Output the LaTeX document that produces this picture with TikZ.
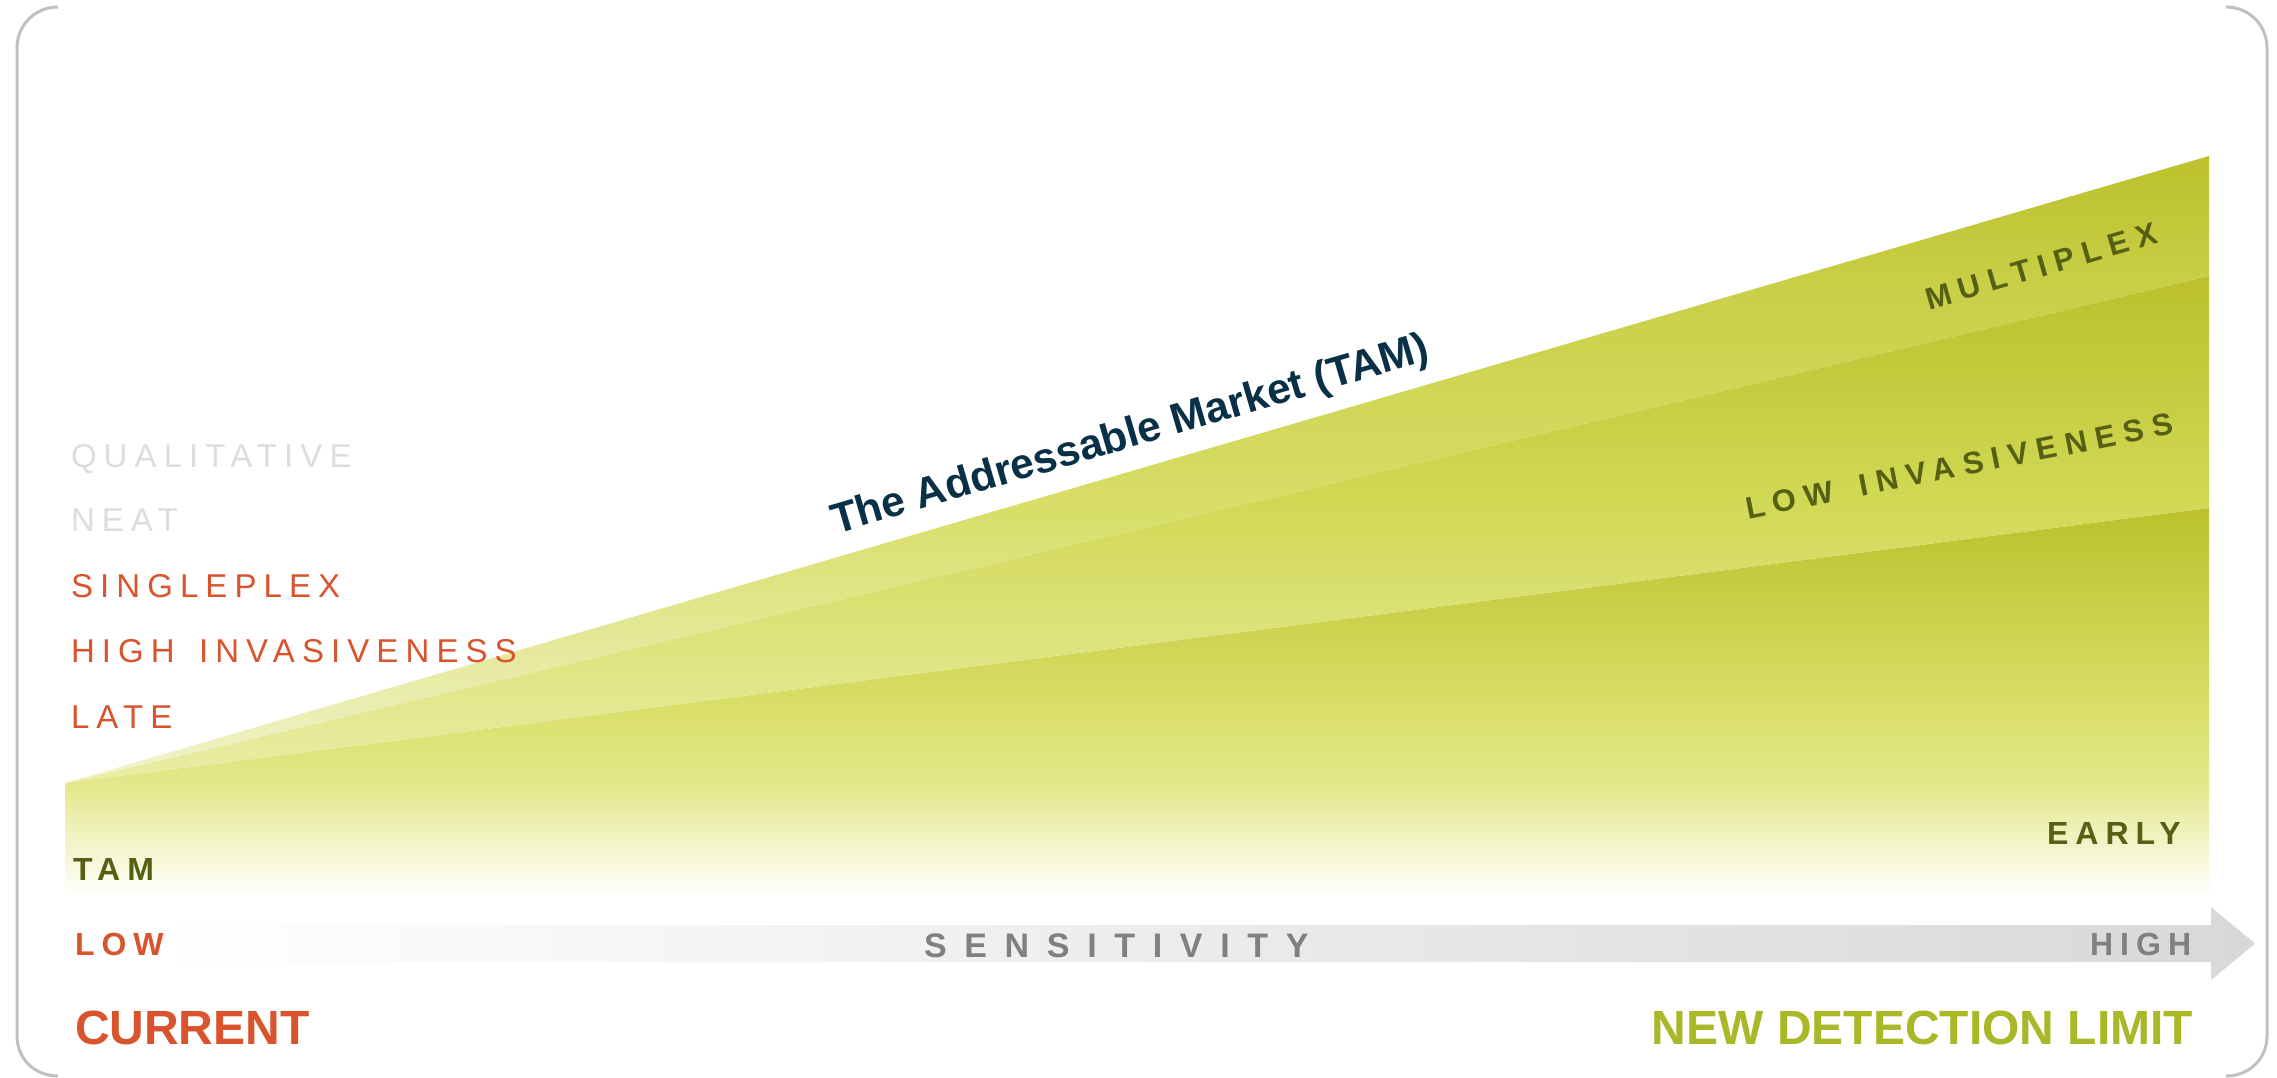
\documentclass[tikz,border=0pt]{standalone}
\usepackage{fontspec}
\setmainfont{Liberation Sans}
\newfontfamily\lsreg[LetterSpace=21.5]{Liberation Sans}
\newfontfamily\lsbold[LetterSpace=22]{Liberation Sans}
\newfontfamily\lswide[LetterSpace=27]{Liberation Sans}
\newfontfamily\lssens[LetterSpace=52]{Liberation Sans}
\definecolor{orng}{RGB}{217,84,44}
\definecolor{limetxt}{RGB}{168,184,38}
\definecolor{olivetxt}{RGB}{85,96,18}
\definecolor{navytxt}{RGB}{8,48,70}
\definecolor{lgray}{RGB}{221,221,221}
\definecolor{mgray}{RGB}{128,128,128}
\definecolor{bordercol}{RGB}{192,192,192}
\definecolor{gdark}{RGB}{187,192,43}
\definecolor{gA1}{RGB}{200,206,69}
\definecolor{gA2}{RGB}{216,222,104}
\definecolor{gA3}{RGB}{242,244,206}
\definecolor{gB1}{RGB}{210,217,86}
\definecolor{gB2}{RGB}{234,237,166}
\definecolor{gC1}{RGB}{216,222,102}
\definecolor{gC2}{RGB}{228,231,138}
\definecolor{arrowgray}{RGB}{216,216,216}
\begin{document}
\begin{tikzpicture}[x=1pt,y=-1pt,
  lbl/.style={anchor=base west,inner sep=0pt,outer sep=0pt},
  lblr/.style={anchor=base east,inner sep=0pt,outer sep=0pt},
  leftreg/.style={lbl,font=\lsreg\fontsize{33}{40}\selectfont},
  boldlbl/.style={lbl,font=\lsbold\bfseries\fontsize{32}{38}\selectfont},
  rotlbl/.style={lbl,font=\lswide\bfseries\fontsize{31}{37}\selectfont,text=olivetxt},
  bigbold/.style={font=\bfseries\fontsize{48}{56}\selectfont}]
\useasboundingbox (0,0) rectangle (2277,1078);
\fill[white] (0,0) rectangle (2277,1078);

% coordinates of the wedge
\coordinate (apex) at (65,783);
\coordinate (t1) at (2209,156);
\coordinate (t2) at (2209,276);
\coordinate (t3) at (2209,508);
\coordinate (br) at (2209,896);
\coordinate (bl) at (65,896);

% band C (lowest)
\begin{scope}
\clip (apex) -- (t3) -- (br) -- (bl) -- cycle;
\shade[top color=gdark,bottom color=gC1] (60,506) rectangle (2215,701);
\shade[top color=gC1,bottom color=gC2] (60,700) rectangle (2215,784);
\shade[top color=gC2,bottom color=white] (60,783) rectangle (2215,897);
\end{scope}
% band B
\begin{scope}
\clip (apex) -- (t2) -- (t3) -- cycle;
\shade[top color=gdark,bottom color=gB1] (60,274) rectangle (2215,509);
\shade[top color=gB1,bottom color=gB2] (60,508) rectangle (2215,785);
\end{scope}
% band A (top)
\begin{scope}
\clip (apex) -- (t1) -- (t2) -- cycle;
\shade[top color=gdark,bottom color=gA1] (60,154) rectangle (2215,277);
\shade[top color=gA1,bottom color=gA2] (60,276) rectangle (2215,511);
\shade[top color=gA2,bottom color=gA3] (60,510) rectangle (2215,785);
\end{scope}

% frame (corner brackets)
\draw[bordercol,line width=3pt] (58,7) .. controls (35,7) and (17,25) .. (17,48)
  -- (17,1036) .. controls (17,1059) and (35,1076) .. (58,1076);
\draw[bordercol,line width=3pt] (2226,7) .. controls (2249,7) and (2267,25) .. (2267,48)
  -- (2267,1036) .. controls (2267,1059) and (2249,1076) .. (2226,1076);

% sensitivity arrow
\shade[left color=white,right color=arrowgray]
  (150,925) -- (2211,925) -- (2211,907) -- (2255,943.5) -- (2211,980) -- (2211,962) -- (150,962) -- cycle;

% left labels
\node[leftreg,text=lgray] (qual) at (71,467) {QUALITATIVE};
\node[leftreg,text=lgray] (neat) at (71,531) {NEAT};
\node[leftreg,text=orng] (single) at (71,597) {SINGLEPLEX};
\node[leftreg,text=orng] (highinv) at (71,662) {HIGH\hspace{8pt} INVASIVENESS};
\node[leftreg,text=orng] (late) at (71,728) {LATE};

\node[boldlbl,text=olivetxt] (tam) at (73,880) {TAM};
\node[boldlbl,text=orng] (low) at (75,955) {LOW};
\node[lbl,bigbold,text=orng] (current) at (75,1044) {CURRENT};
\node[lblr,bigbold,text=limetxt] (newlim) at (2193,1044) {NEW DETECTION LIMIT};

\node[lbl,font=\lssens\bfseries\fontsize{34}{40}\selectfont,text=mgray] (sens) at (924,957) {SENSITIVITY};
\node[boldlbl,text=mgray] (high) at (2090,955) {HIGH};
\node[boldlbl,text=olivetxt] (early) at (2047,844) {EARLY};

% rotated labels
\node[rotlbl,rotate=16.3] (multi) at (1929,310) {MULTIPLEX};
\node[rotlbl,rotate=11.3] (lowinv) at (1748,519) {LOW\hspace{10pt} INVASIVENESS};
\node[lbl,rotate=16.3,font=\bfseries\fontsize{42.5}{48}\selectfont,text=navytxt] (title) at (836,534) {The Addressable Market (TAM)};
\end{tikzpicture}
\end{document}
